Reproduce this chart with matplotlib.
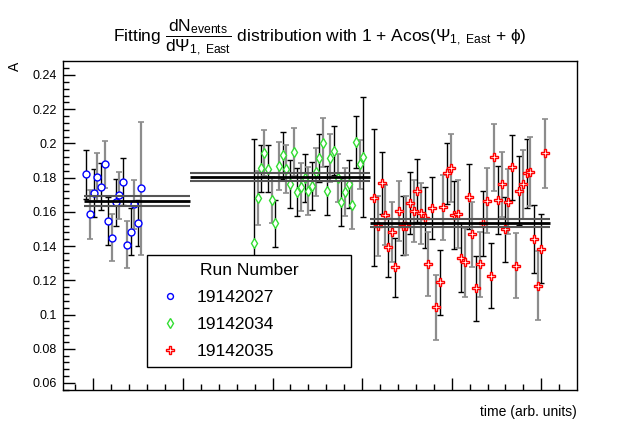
import matplotlib
matplotlib.use('Agg')
import matplotlib.pyplot as plt
from matplotlib.lines import Line2D
from matplotlib.ticker import MultipleLocator, FuncFormatter

plt.rcParams['font.family'] = ['Liberation Sans', 'DejaVu Sans']
plt.rcParams['mathtext.fontset'] = 'custom'
plt.rcParams['mathtext.rm'] = 'Liberation Sans'
plt.rcParams['mathtext.it'] = 'Liberation Sans'

# run 19142027
t1 = [-7.8, -3.3, 0.4, 4.5, 8.3, 12.7, 16.7, 20.9, 25.0, 29.0, 33.1, 37.6, 41.7, 45.8, 49.9, 52.9]
a1 = [0.1820, 0.1586, 0.1712, 0.1802, 0.1747, 0.1878, 0.1545, 0.1449, 0.1656, 0.1697, 0.1776,
      0.1408, 0.1484, 0.1644, 0.1533, 0.1738]
e1 = [0.0144, 0.0144, 0.0140, 0.0141, 0.0139, 0.0138, 0.0139, 0.0139, 0.0139, 0.0137, 0.0137,
      0.0137, 0.0137, 0.0142, 0.0134, 0.0390]

# run 19142034
t2 = [179.7, 183.8, 187.5, 190.8, 195.0, 199.1, 203.1, 206.7, 211.4, 215.4, 219.5, 223.7, 227.3,
      231.8, 235.9, 240.0, 244.1, 248.2, 251.9, 256.4, 260.5, 264.5, 268.6, 272.8, 276.8, 280.9,
      285.0, 289.1, 293.2, 297.3, 301.3]
a2 = [0.1420, 0.1679, 0.1855, 0.1946, 0.1852, 0.1669, 0.1533, 0.1868, 0.1931, 0.1851, 0.1763,
      0.1950, 0.1716, 0.1747, 0.1796, 0.1724, 0.1751, 0.1833, 0.1913, 0.2004, 0.1724, 0.1917,
      0.1958, 0.1796, 0.1660, 0.1716, 0.1763, 0.1640, 0.2008, 0.1878, 0.1922]
e2 = [0.0606, 0.0158, 0.0136, 0.0135, 0.0136, 0.0136, 0.0136, 0.0140, 0.0138, 0.0140, 0.0140,
      0.0140, 0.0140, 0.0141, 0.0141, 0.0140, 0.0140, 0.0142, 0.0141, 0.0142, 0.0143, 0.0140,
      0.0143, 0.0140, 0.0140, 0.0142, 0.0140, 0.0142, 0.0150, 0.0142, 0.0350]

# run 19142035
t3 = [313.6, 318.1, 321.9, 325.2, 328.6, 333.0, 337.1, 341.2, 345.6, 349.3, 353.5, 357.6, 361.6,
      366.1, 369.9, 373.9, 378.3, 382.1, 386.6, 390.6, 394.4, 398.9, 402.6, 406.7, 410.7, 414.8,
      419.3, 423.0, 427.1, 431.3, 435.3, 439.4, 443.5, 447.5, 451.7, 455.8, 459.8, 463.2, 466.9,
      471.4, 475.4, 479.2, 483.7, 487.7, 491.9, 496.0, 500.0, 504.1]
a3 = [0.1683, 0.1516, 0.1767, 0.1582, 0.1392, 0.1484, 0.1276, 0.1605, 0.1520, 0.1520, 0.1652,
      0.1605, 0.1723, 0.1591, 0.1567, 0.1295, 0.1621, 0.1042, 0.1190, 0.1626, 0.1825, 0.1855,
      0.1582, 0.1586, 0.1332, 0.1305, 0.1689, 0.1469, 0.1153, 0.1294, 0.1533, 0.1664, 0.1227,
      0.1919, 0.1669, 0.1761, 0.1498, 0.1660, 0.1861, 0.1284, 0.1724, 0.1761, 0.1825, 0.1835,
      0.1442, 0.1169, 0.1385, 0.1942]
e3 = [0.0402, 0.0175, 0.0180, 0.0175, 0.0175, 0.0175, 0.0172, 0.0175, 0.0175, 0.0175, 0.0180,
      0.0180, 0.0185, 0.0180, 0.0180, 0.0185, 0.0180, 0.0190, 0.0190, 0.0190, 0.0180, 0.0200,
      0.0200, 0.0200, 0.0200, 0.0200, 0.0190, 0.0190, 0.0190, 0.0190, 0.0190, 0.0190, 0.0190,
      0.0195, 0.0200, 0.0190, 0.0190, 0.0190, 0.0190, 0.0190, 0.0200, 0.0200, 0.0200, 0.0200,
      0.0200, 0.0200, 0.0200, 0.0200]

# fit results (constant A over each run)
fit_start = [-10.4, 107.9, 308.8]
fit_end = [107.9, 308.8, 509.7]
fit_A = [0.1661, 0.1804, 0.1535]
fit_err = [0.0029, 0.0023, 0.0025]

runs = ['19142027', '19142034', '19142035']
colors = ['#0000ff', '#33dd33', '#ff0000']
markers = ['o', 'd', 'P']
msizes = [5, 5.5, 6]

fig = plt.figure(figsize=(6.4, 4.36), dpi=100)
ax = fig.add_axes([0.0992, 0.1044, 0.8016, 0.7546])

for t, a, e, c, m, ms in zip([t1, t2, t3], [a1, a2, a3], [e1, e2, e3], colors, markers, msizes):
    for i in range(len(t)):
        if i % 2 == 0:
            ax.errorbar(t[i], a[i], yerr=e[i], fmt='none', ecolor='black', elinewidth=1,
                        capsize=2.2, capthick=1, zorder=2)
        else:
            ax.errorbar(t[i], a[i], yerr=e[i], fmt='none', ecolor='#8c8c8c', elinewidth=1.6,
                        capsize=2.2, capthick=1.2, zorder=2)
    ax.plot(t, a, linestyle='none', marker=m, ms=ms, mfc='white', mec=c, mew=1, zorder=3)

for x0, x1, A, dA in zip(fit_start, fit_end, fit_A, fit_err):
    ax.hlines([A + dA, A - dA], x0, x1, colors='#555555', linewidth=1.5, zorder=4)
    ax.hlines(A, x0, x1, colors='black', linewidth=2, zorder=4)

ax.set_xlim(-33.3, 539.3)
ax.set_ylim(0.0556, 0.2479)
ax.xaxis.set_major_locator(MultipleLocator(100))
ax.xaxis.set_minor_locator(MultipleLocator(20))
ax.yaxis.set_major_locator(MultipleLocator(0.02))
ax.yaxis.set_minor_locator(MultipleLocator(0.004))
ax.yaxis.set_major_formatter(FuncFormatter(lambda v, p: f'{v:g}'))
ax.tick_params(axis='both', which='both', direction='in', top=False, right=False)
ax.tick_params(axis='both', which='major', length=8.5, width=1)
ax.tick_params(axis='both', which='minor', length=4, width=1)
ax.tick_params(axis='x', labelbottom=False)
ax.tick_params(axis='y', labelsize=9, pad=4.5)
for s in ax.spines.values():
    s.set_linewidth(1)

ax.set_xlabel('time (arb. units)', fontsize=10, ha='right')
ax.xaxis.set_label_coords(1.0, -0.043)
ax.set_ylabel('A', fontsize=10, ha='right')
ax.yaxis.set_label_coords(-0.08, 1.0)

fig.text(0.5, 1 - 38 / 436,
         r'Fitting $\dfrac{\mathrm{dN}_{\mathrm{events}}}{\mathrm{d}\Psi_{\mathrm{1,\ East}}}$'
         r' distribution with 1 + Acos($\Psi_{\mathrm{1,\ East}}$ + $\phi$)',
         ha='center', va='center', fontsize=12.5)

handles = [Line2D([], [], linestyle='none', marker=m, ms=ms * 0.85, mfc='white', mec=c, mew=1)
           for m, ms, c in zip(markers, msizes, colors)]
leg = ax.legend(handles, runs, title='Run Number', loc='upper left',
                bbox_to_anchor=(0.163, 0.0, 0.397, 0.412), mode='expand', borderaxespad=0,
                fancybox=False, edgecolor='black', framealpha=1, fontsize=12.5,
                title_fontsize=12.5, handlelength=1.7, handletextpad=0.7, borderpad=0.48,
                labelspacing=0.67)
leg.get_frame().set_linewidth(1)
leg.set_zorder(10)

fig.savefig('out.png', dpi=100)
